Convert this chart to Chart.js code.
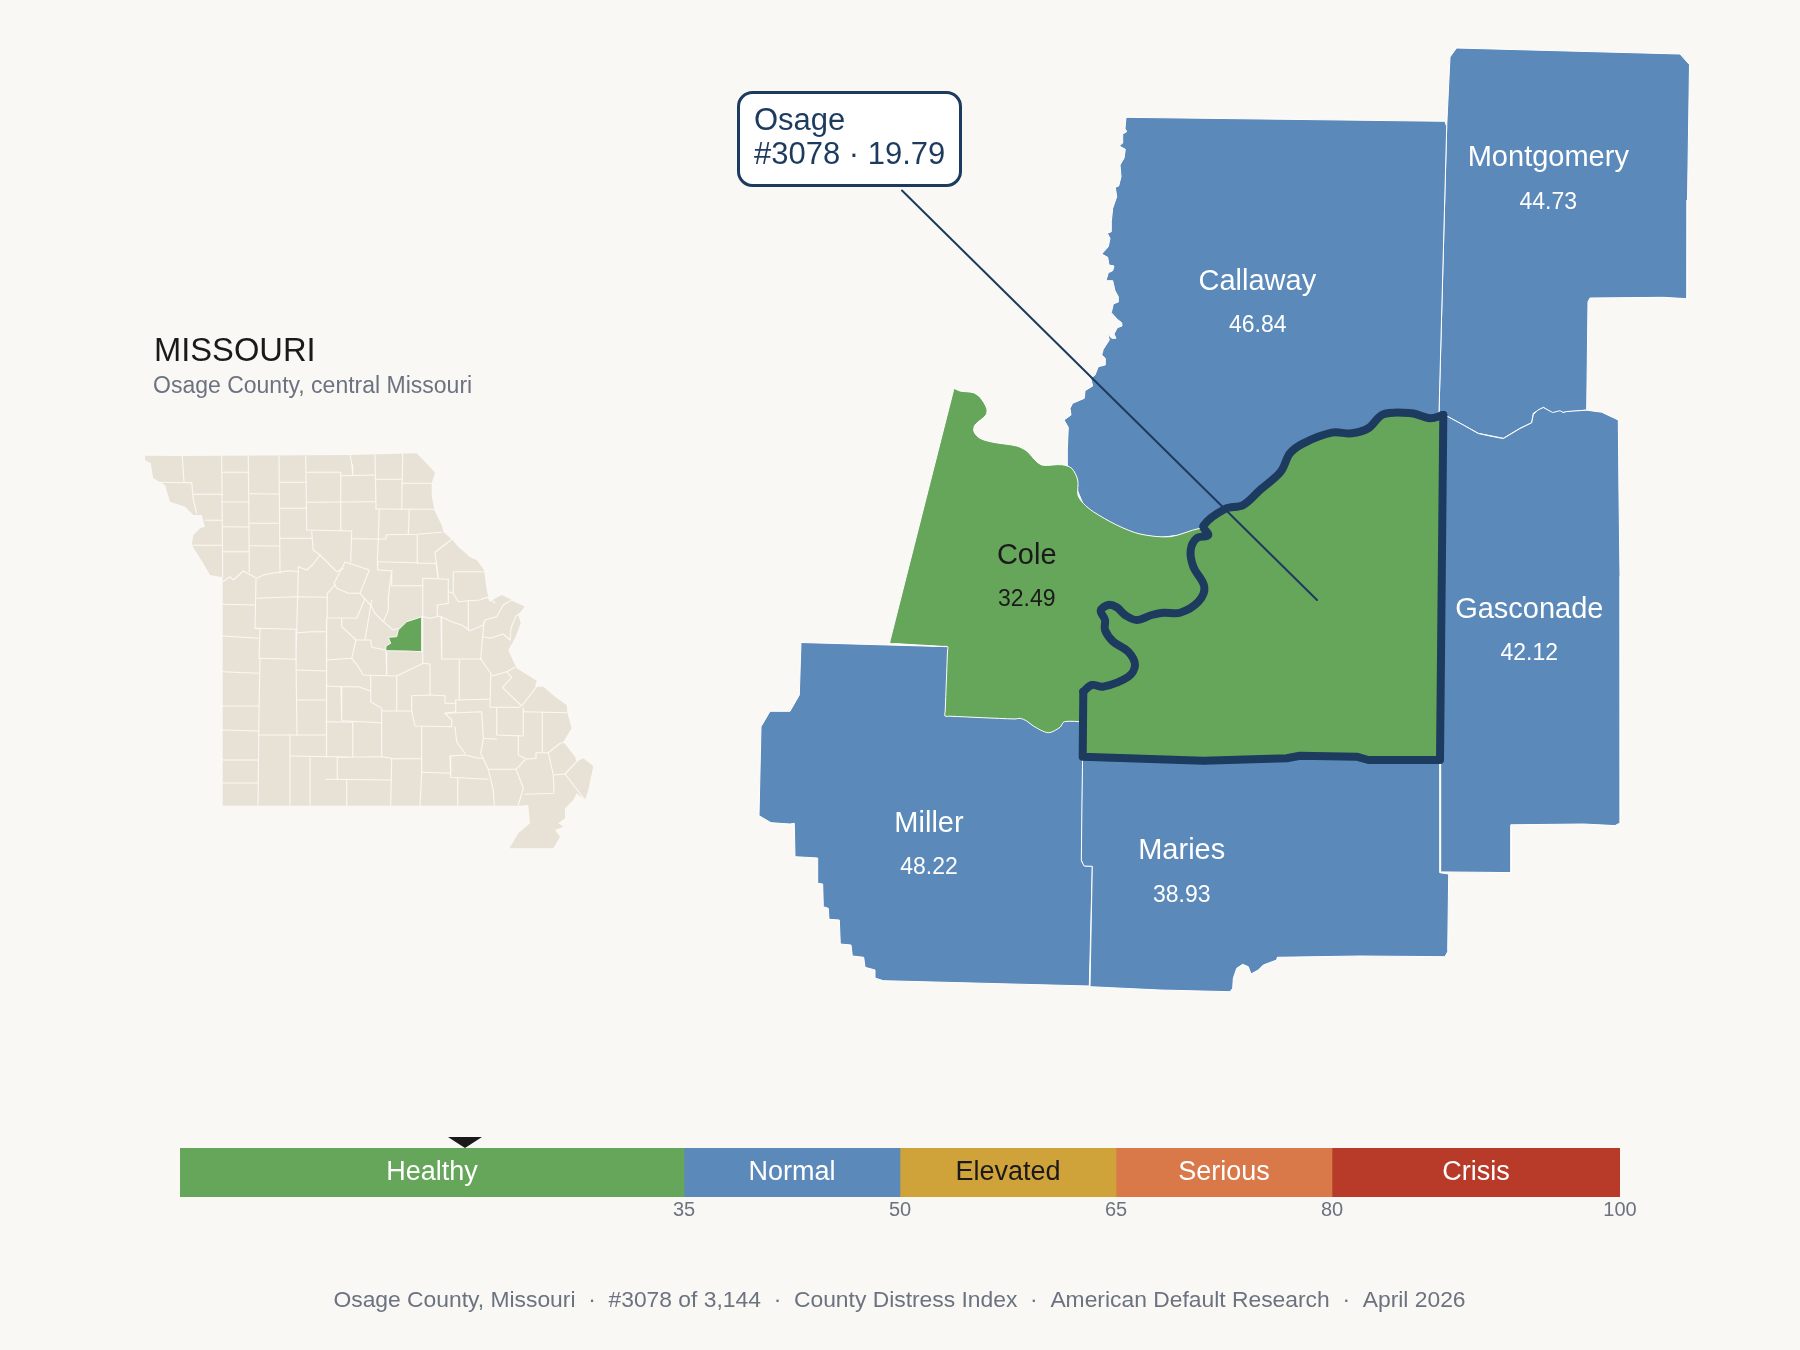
<!DOCTYPE html>
<html><head><meta charset="utf-8">
<style>
html,body{margin:0;padding:0;background:#faf8f4;width:1800px;height:1350px;overflow:hidden}
canvas{position:absolute;display:block}
</style>
<script src="https://cdn.jsdelivr.net/npm/chart.js@4/dist/chart.umd.min.js"></script>
</head><body>
<canvas id="map" width="1800" height="1350" style="left:0;top:0"></canvas>
<canvas id="bar" width="1800" height="127" style="left:0;top:1110px"></canvas>
<script>
// ---------- values ----------
const countyNames  = ['Callaway','Montgomery','Gasconade','Cole','Miller','Maries'];
const countyScores = ['46.84','44.73','42.12','32.49','48.22','38.93'];
const bandLabels = ['Healthy','Normal','Elevated','Serious','Crisis'];
const bandWidths = [35,15,15,15,20];
const axisTicks  = [35,50,65,80,100];
const markerScore = 19.79;
const calloutLines = ['Osage','#3078 · 19.79'];
const titleText = 'MISSOURI';
const subtitleText = 'Osage County, central Missouri';
const footerText = 'Osage County, Missouri  ·  #3078 of 3,144  ·  County Distress Index  ·  American Default Research  ·  April 2026';

// county shapes, in map units
const callaway = [[1126,117.3],[1445,121.3],[1446.7,126.7],[1439,412],[1440,440],[1300,520],[1100,545],[1067,465],[1067.3,450],[1068.3,427.3],[1064,420],[1071,415],[1070,408.3],[1072.7,403.3],[1084.3,398.3],[1085,390.7],[1092.7,386],[1090.7,378.3],[1095,375],[1098.3,366.7],[1105,365],[1105.3,358.3],[1101.7,355],[1103.3,349.3],[1109.3,340],[1107.7,334],[1111.7,338.3],[1116,338.3],[1114,334],[1117.3,327.7],[1122,326],[1121.7,322.7],[1117.3,319.3],[1111.3,312.7],[1113.3,304],[1118.7,301.7],[1118.3,296.7],[1115,290.7],[1112.7,280.7],[1106,280.7],[1108.3,272.7],[1112.7,270.7],[1114,266],[1109,265],[1107.7,257.3],[1101.7,254],[1108.3,246.7],[1110,238.3],[1107.3,233.3],[1111.3,231.7],[1111.3,221.7],[1112.7,208.3],[1116.7,196.7],[1115.3,187.3],[1118.7,186],[1121,176.7],[1120,165],[1124,158.3],[1125.3,149.3],[1119.3,146],[1122.3,143.3],[1122.7,134],[1126.7,131.7],[1125,128.3],[1126,117.3]];
const montgomery = [[1456.5,48],[1680,54],[1689.5,64.7],[1687.5,200],[1687,298.7],[1663.3,297.3],[1590,298],[1588,301.7],[1586.7,410],[1563.3,412.3],[1552.7,413.3],[1543.3,407.3],[1533.3,413.3],[1531.7,422.7],[1520,428.3],[1503.3,438.3],[1478.3,433.3],[1463.3,425],[1446.7,416],[1438.3,420],[1439,412],[1446.7,126.7],[1450,57],[1456.5,48]];
const gasconade = [[1446.7,416],[1463.3,425],[1478.3,433.5],[1490,436],[1503.3,438.6],[1520,428.5],[1531.7,422.8],[1533.3,414.5],[1538,410],[1543.3,407.5],[1552.7,412.5],[1560,410.7],[1563.3,412.6],[1566.7,411.5],[1586.7,410.2],[1601.7,412.2],[1618.3,420],[1619,495.7],[1620,576],[1620,650.7],[1620.7,725.3],[1620,822.9],[1615,825.6],[1583.3,824],[1511,824.8],[1511,872.6],[1440.7,871.9],[1440.7,763.6],[1443,420],[1446.7,416]];
const maries = [[1082.7,745],[1440,745],[1440,872.7],[1448.7,874],[1447.7,951.7],[1445,956.7],[1360,956],[1277.3,957.3],[1276.7,960],[1263.3,965],[1258.3,970],[1251,974],[1248.3,966.7],[1242.7,964.3],[1236.7,968.3],[1233.3,978.3],[1232.7,988.3],[1230,991.7],[1160,990],[1090,986.7],[1092.3,866.3],[1084,866],[1081.3,860],[1082.7,745]];
const miller = [[801,642.5],[947.7,646.7],[1000,660],[1080,700],[1082.7,760],[1081.7,861.7],[1085,866],[1092.3,866],[1089.3,986],[883.3,980.7],[875.7,978.3],[875,970],[865,967.3],[863.7,957.3],[852.3,956],[851,945],[840.3,944],[839.3,920],[829,919.3],[828.3,908.3],[823.3,906.7],[822.7,884],[817.7,883.3],[817.7,858],[795,856.7],[794.3,823.3],[790,824],[771,822.7],[759,815.7],[761,726.7],[770,711.3],[790,711.3],[799.3,695],[801,642.5]];
const cole = [[954,388.3],[960,391],[973.3,392.7],[980,397.3],[986.7,408.3],[986,415],[975,425],[974,431.7],[980,438.3],[993.3,442.3],[1016.7,446],[1026.7,451],[1036.7,461.7],[1043.3,465.3],[1061.7,464.7],[1071.7,468.3],[1077.7,480],[1078,495],[1083.3,503.3],[1093.3,511.7],[1116.7,525],[1140,534],[1170,536.7],[1200,528.3],[1210,530],[1250,600],[1250,700],[1085,721.5],[1064.3,721.7],[1060,727.3],[1048.3,732.7],[1033.3,726],[1026.7,721],[1020,718.3],[1015,719],[950,716.2],[945,716],[945.2,711],[947.5,651],[947.7,646.7],[943,646.4],[895,643.6],[890,643.3],[890.7,638.3],[892,633],[952.8,393],[954,388.3]];
const osageRiver = [[1443.3,415],[1430,418.3],[1411.7,413.3],[1383.3,414.3],[1368.3,428.3],[1351.7,433.3],[1331.7,432.7],[1303.3,443.3],[1290,453.3],[1280.7,471.7],[1260,490],[1243.3,505],[1225,509],[1203.3,526],[1208.3,535],[1196.7,538.3],[1190.7,550],[1193.3,566.7],[1204.3,586.7],[1198.3,601.7],[1180,612.7],[1163.3,612.7],[1151.7,615],[1136.7,620],[1125,615],[1116.7,607.3],[1108.3,605],[1100.7,610.7],[1105,620],[1105,630],[1113.3,641.7],[1128.3,651.7],[1135,665],[1128.3,676.7],[1103.3,686.7],[1091.7,685],[1083.3,691.7]];
const osageLand = [[1083.3,691.7],[1082.7,756.7],[1203.3,760.7],[1286.7,758.3],[1300,755.7],[1356.7,756.7],[1368.3,760],[1440,760],[1443.3,415]];
const leader = [[902,190.5],[1317,600]];

// state overview, in map units
const stateOutline = [[145,455.7],[181.7,456],[350,455],[416.7,453.3],[425,461.7],[435,472.7],[431.7,483.3],[431.7,496.7],[435,511.7],[441.7,525],[443.3,531.7],[451.7,539.3],[458.3,546.7],[470,557.3],[476.7,560],[484,570],[486.7,590],[489.3,601.7],[501.7,595],[525,606],[518.3,615],[520.7,623.3],[515,638.3],[508.3,650],[512.7,660],[516.7,668.3],[536.7,680.7],[535,686.7],[543.3,686.7],[555,696.7],[566.7,705],[567.3,712.7],[571.7,728.3],[563.3,741.7],[575,756.7],[576.7,761.7],[583.3,758.3],[593.3,766],[588.3,790],[585,800],[576.7,793.3],[573.3,800],[565,808.3],[565,818.3],[558.3,823.3],[563.3,826.7],[555,830],[560,836.7],[553.3,848.3],[509.3,848.3],[518.3,833.3],[530,823.3],[528.3,805],[518.3,805.7],[222.7,805.7],[222.7,577.3],[210,575],[203.3,563.3],[191.7,545],[193.3,535],[200,528.3],[205,526.7],[201.7,515],[193.3,515],[185,506.7],[170,501.7],[165,485],[153.3,478.3],[150.7,463.3],[145,460],[145,455.7]];
const stateBorders = [
[[182.3,456],[184,482.3],[191.7,482.7],[193.3,499.3],[196.7,513.3]],
[[153.3,482.3],[191.7,482.7]],
[[221.7,456],[222.7,577]],
[[193.3,494.3],[222.7,494.3]],[[205,520.3],[222.7,520.3]],[[190,545.3],[222.7,545.3]],
[[248.3,456],[249.3,571.7]],
[[222.7,472.3],[249.3,472.3]],[[222.7,502],[249.3,502]],[[222.7,526.7],[249.3,527]],[[222.7,551.7],[249.3,551.7]],
[[279,456],[280,573.3]],
[[249.3,493.7],[279,494]],[[249.3,523.3],[279,523.3]],[[249.3,545.7],[279,546]],
[[305.7,456],[306.7,530]],
[[280,482.3],[306.7,482.3]],[[280,508.3],[306.7,508.3]],[[280,538.3],[311.7,538.3]],
[[306.7,472.3],[340.7,472.3],[340.7,530]],
[[306.7,502.3],[375,501.7]],[[306.7,530],[351.7,531]],
[[350,455],[352,465],[352.7,475]],[[340.7,475.7],[375,475]],
[[375,454],[376,509]],[[376,509],[435,509.3]],[[402.7,453.3],[401.7,509]],
[[376,479.3],[401.7,479.3]],[[401.7,483.3],[431.7,483.3]],
[[351.7,531],[350.7,561.7]],[[351.7,538.7],[378.3,539],[379.3,509.3]],
[[409.3,509.3],[408.3,534.3]],[[378.3,539],[386,539],[386,534.7],[417.3,534.3],[441.7,532.3]],
[[417.3,534.3],[417.3,563.3],[436,563.3],[438.3,578.3]],
[[378.3,539],[377.3,561.7],[377.7,570]],[[377.7,561.7],[417.3,562.7]],
[[451.7,539.3],[435,552.3],[438.3,578.3]],
[[391.7,570.7],[391.7,585.7],[422.7,585.7]],[[377.7,570],[391.7,570.7]],
[[345,562],[369.3,570],[360,593.3],[348.3,593.3],[336.7,588.3],[334,583.3],[338.3,575],[345,562]],
[[222.7,581.7],[230,576.7],[233.3,580],[243.3,571],[256.7,578.3],[263.3,575],[275,572.7],[290,570.7],[298.3,571.7],[298.3,566.7],[306.7,570],[313.3,564],[320,555],[330,565],[336.7,571.7],[343.3,568.3]],
[[311.7,531.7],[313.3,550],[320,555]],
[[256,579.3],[255,628.3],[260,629],[259,658.3]],
[[298.3,571.7],[296.7,630],[296,658.3]],
[[256.7,598.3],[296.7,596.7],[327.3,597.3]],
[[222.7,604.3],[255,605]],
[[222.7,636],[243.3,637.3],[258.3,638.3]],
[[255,628.3],[296.7,629.3]],
[[296.7,632.7],[311.7,631.7],[326,631.7]],
[[259,658.3],[296.7,659.3]],
[[222.7,671.7],[259.3,673.3]],
[[260,658.3],[259,712],[258,805]],
[[296.7,670],[326.7,671]],
[[296,658.3],[297,735]],
[[327.3,593.3],[335,585]],
[[327.3,593.3],[327.3,617.7],[356.7,618.3],[365,598.3]],
[[326.7,617.7],[326.5,757]],
[[341.7,619],[341.7,626.7],[356,640],[351.7,658.3],[326.7,660]],
[[371.7,600],[365,640]],[[356,640],[370.7,640],[371.7,647.3],[386,650]],
[[360,593.3],[371.7,606.7],[375,613.3],[383.3,621.7]],
[[391.7,570.7],[388.3,596.7],[388.3,610],[383.3,621.7],[393.3,630],[398.3,628.3]],
[[422.7,578.3],[422.7,663.3],[430,664]],[[422.7,578.3],[448.3,579.3]],
[[448.3,579.3],[448.3,603.3],[437.3,605],[437.3,616]],
[[386,651.7],[386.7,675]],
[[351.7,658.3],[358.3,666.7],[363.3,675],[396.7,676],[423.3,663.3]],
[[422.7,616.7],[430,618.3],[440,616],[451.7,621.7],[461.7,625],[470,630.7],[483.3,625],[485,620],[496.7,616.7],[503.3,605],[511.7,600],[525,606]],
[[448.3,591.7],[453.3,593.3],[458.3,601.7],[468.3,600.7],[468.3,630]],
[[453.3,571.7],[453.3,592.7]],[[453.3,571.7],[484,571.7]],
[[468.3,600.7],[480,600],[486.7,597.3],[495,602.7]],
[[441,616.7],[441.7,659]],[[441.7,659],[481.7,659]],[[484,621.7],[480.7,659]],
[[483.3,636.7],[490,638.3],[503.3,634],[510,640]],
[[511,628],[516,616],[522,612]],[[511,628],[510,640]],
[[480.7,659],[490.7,673.3],[492.3,676],[506.7,671.7],[515,667.3]],
[[506.7,671.7],[511.7,677.3],[502.3,687.3],[521.7,706],[536.7,686.7]],
[[490.7,675],[490,707.3],[520,707.3]],
[[430,664],[430,695],[411.7,695.7],[411.7,711]],
[[459.3,660],[459.3,699.3]],
[[430,695],[445,695.7],[445,703.3],[455.7,703.3],[455.7,700],[489.3,699.3]],
[[455.7,703.3],[455.7,711.7],[445,713.3],[451.7,720],[451.7,726.7],[415,726],[411.7,711]],
[[445,713.3],[481.7,711.7],[483.3,738.3],[496.7,739.3]],
[[496.7,707.7],[496.7,735],[523.3,736],[523.3,707.7]],
[[523.3,711.7],[566.7,712.7]],[[542.3,711.7],[542.3,752.7]],
[[518.3,736],[518.3,755],[526.7,759.3],[536,758.3],[536,752.7],[548.3,752.7],[553.3,775],[554,793.3],[525,794.3]],
[[548.3,752.7],[560,743.3],[568.3,741.7]],
[[554,775],[565,774],[576.7,761.7]],[[565,774],[585,800]],
[[483.3,739.3],[480.7,753.3],[488.3,769.3],[516,769.3],[525,760]],
[[516,769.3],[523.3,788.3],[518.3,805]],
[[488.3,769.3],[493.3,790],[494.3,805.7]],
[[450,756],[450.7,777.3],[488.3,779.3]],
[[450,756],[465,755],[478.3,758.3],[483.3,758.3]],
[[455,726.7],[456.7,741.7],[465,753.3]],
[[421.7,726.7],[421.7,772.3],[420,805.7]],[[421.7,772.3],[450.7,773.3]],
[[457.7,778.3],[457.7,805.7]],
[[381.7,711],[381.7,756.7],[391.7,758.3],[390.7,805.7]],[[381.7,711],[411.7,711]],
[[391.7,758.7],[421.7,758.7]],[[337.3,757.3],[381.7,756.7]],
[[337.3,757.3],[337.3,779.3]],[[326,779.3],[391.7,780]],[[346.7,780],[346.7,805.7]],
[[352.7,722.3],[352.7,756.7]],[[341,686.7],[341.7,720.7],[381,722.7]],[[326,721.7],[352.7,722.3]],
[[326,686],[341,686.7],[358.3,686.7],[370,690.7]],
[[370.7,676],[370.7,701.7],[381.7,708.3],[381.7,711]],[[396.7,676.7],[396.7,710.7]],
[[222.7,706],[259,706]],[[222.7,730],[259,731]],[[222.7,760],[258,760]],[[222.7,783],[258,783]],
[[290,735],[290,805]],[[258,735],[326,735]],[[310,756],[310,805]],[[290,756],[347,757]],[[297,700],[326,700]]
];
const osageInset = [[385.7,650.7],[386,646],[390.7,643.3],[388.3,637.3],[396.7,636.7],[398.3,630],[406.7,621.7],[422,616.7],[422,651.7],[406.7,651],[385.7,650.7]];

// label anchors, in map units
const labelAnchors = [[1257.3,282],[1548.3,158],[1529.3,609.5],[1026.7,556],[929,824.3],[1181.7,851]];
const valueAnchors = [[1257.7,326],[1548.3,202.5],[1529.3,654],[1026.7,600],[929,868],[1181.7,896]];

// ---------- styles ----------
const BG='#faf8f4', GREEN='#66a65a', BLUE='#5b89b9', NAVY='#1d3a5f', BEIGE='#e8e2d6', GREY='#6b7280', INK='#1a1a1a';
const FONT='"Liberation Sans", Arial, sans-serif';
const labelColors = ['#fff','#fff','#fff',INK,'#fff','#fff'];
const bandColors = [GREEN,BLUE,'#d0a23a','#d97848','#b83b2a'];
const bandTextColors = ['#fff','#fff',INK,'#fff','#fff'];

const xy = pts => pts.map(([x,y])=>({x,y}));
const shape = (pts,fill,stroke,w,extra) => Object.assign({data:xy(pts),showLine:true,fill:fill?'shape':false,backgroundColor:fill||'transparent',borderColor:stroke||'transparent',borderWidth:w||0,pointRadius:0,borderJoinStyle:'round',borderCapStyle:'round',tension:0},extra||{});

// painted bottom to top, then reversed because Chart.js paints the first dataset last
const painted = [
  shape(stateOutline,BEIGE),
  ...stateBorders.map(p=>shape(p,null,'#faf8f4',1.1)),
  shape(osageInset,GREEN,'#faf8f4',1),
  shape(montgomery,BLUE,'#fff',1),
  shape(callaway,BLUE,'#fff',1),
  shape(gasconade,BLUE,'#fff',1),
  shape(miller,BLUE,'#fff',1),
  shape(maries,BLUE,'#fff',1),
  shape(cole,GREEN,'#fff',1,{tension:0.3}),
  shape([...osageRiver,...osageLand],GREEN),
  shape(osageRiver,null,NAVY,8,{tension:0.35}),
  shape(osageLand,null,NAVY,8),
  shape(leader,null,NAVY,2)
];

const mapText = {
  id:'mapText',
  afterDatasetsDraw(chart){
    const c=chart.ctx, sx=chart.scales.x, sy=chart.scales.y;
    const P=(a)=>[sx.getPixelForValue(a[0]),sy.getPixelForValue(a[1])];
    c.save();
    c.textBaseline='middle';
    c.textAlign='center';
    countyNames.forEach((n,i)=>{
      c.fillStyle=labelColors[i];
      c.font='29px '+FONT;
      let p=P(labelAnchors[i]); c.fillText(n,p[0],p[1]);
      c.font='23px '+FONT;
      p=P(valueAnchors[i]); c.fillText(countyScores[i],p[0],p[1]);
    });
    c.textAlign='left';
    c.fillStyle=INK; c.font='32.7px '+FONT; c.fillText(titleText,154,352);
    c.fillStyle=GREY; c.font='23px '+FONT; c.fillText(subtitleText,153,386.5);
    c.textAlign='center';
    c.fillStyle=GREY; c.font='22.85px '+FONT; c.fillText(footerText,899.5,1301);
    // callout
    c.beginPath(); c.roundRect(738.5,92.5,222,93,14);
    c.fillStyle='#fff'; c.fill(); c.lineWidth=3; c.strokeStyle=NAVY; c.stroke();
    c.textAlign='left'; c.fillStyle=NAVY; c.font='31px '+FONT;
    c.fillText(calloutLines[0],754,121); c.fillText(calloutLines[1],754,155);
    c.restore();
  }
};

new Chart(document.getElementById('map'),{
  type:'scatter',
  data:{datasets:painted.slice().reverse()},
  options:{
    responsive:false,animation:false,devicePixelRatio:1,
    layout:{padding:0},
    plugins:{legend:{display:false},tooltip:{enabled:false}},
    events:[],
    scales:{
      x:{type:'linear',display:false,min:0,max:1800},
      y:{type:'linear',display:false,min:0,max:1350,reverse:true}
    }
  },
  plugins:[mapText]
});

const barText = {
  id:'barText',
  afterDatasetsDraw(chart){
    const c=chart.ctx, sx=chart.scales.x, a=chart.chartArea;
    c.save();
    c.textAlign='center'; c.textBaseline='middle'; c.font='27px '+FONT;
    let start=0;
    bandLabels.forEach((b,i)=>{
      c.fillStyle=bandTextColors[i];
      c.fillText(b,sx.getPixelForValue(start+bandWidths[i]/2),(a.top+a.bottom)/2);
      start+=bandWidths[i];
    });
    const m=sx.getPixelForValue(markerScore);
    c.fillStyle=INK; c.beginPath(); c.moveTo(m-17,a.top-11); c.lineTo(m+17,a.top-11); c.lineTo(m,a.top); c.closePath(); c.fill();
    c.restore();
  }
};

new Chart(document.getElementById('bar'),{
  type:'bar',
  data:{labels:['score'],datasets:bandLabels.map((b,i)=>({label:b,data:[bandWidths[i]],backgroundColor:bandColors[i],borderWidth:0,barPercentage:1,categoryPercentage:1}))},
  options:{
    indexAxis:'y',responsive:false,animation:false,devicePixelRatio:1,
    layout:{padding:{left:180,right:180,top:38,bottom:0}},
    plugins:{legend:{display:false},tooltip:{enabled:false}},
    events:[],
    scales:{
      x:{type:'linear',stacked:true,min:0,max:100,
         grid:{display:false,drawTicks:false},border:{display:false},
         afterBuildTicks(s){s.ticks=axisTicks.map(v=>({value:v}));},
         afterFit(s){s.height=40;},
         ticks:{autoSkip:false,maxRotation:0,padding:1,color:GREY,font:{family:FONT,size:20}}},
      y:{stacked:true,display:false}
    }
  },
  plugins:[barText]
});
</script>
</body></html>
